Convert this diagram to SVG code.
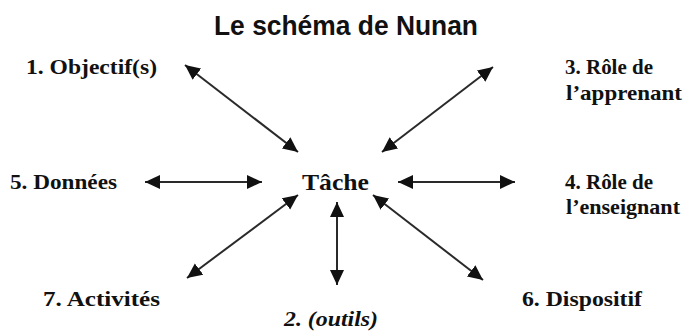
<svg xmlns="http://www.w3.org/2000/svg" width="686" height="332" viewBox="0 0 686 332">
  <defs>
    <marker id="ah" markerUnits="userSpaceOnUse" markerWidth="16" markerHeight="15" refX="15" refY="7" orient="auto-start-reverse">
      <path d="M0,0 L15,7 L0,14 z" fill="#111"/>
    </marker>
    <style>
      .lbl { font-family: "Liberation Serif", "Times New Roman", serif; font-weight: bold; font-size: 21px; fill: #111; }
      .ttl { font-family: "Liberation Sans", Arial, sans-serif; font-weight: bold; font-size: 27px; fill: #111; }
      .ar { stroke: #2a2a2a; stroke-width: 2; fill: none; marker-start: url(#ah); marker-end: url(#ah); }
    </style>
  </defs>
  <rect width="686" height="332" fill="#fff"/>
  <g id="title"><text class="ttl" x="214" y="35" textLength="264" lengthAdjust="spacingAndGlyphs">Le schéma de Nunan</text></g>
  <g id="tache"><text class="lbl" x="302" y="190" style="font-size:23px" textLength="67" lengthAdjust="spacingAndGlyphs">Tâche</text></g>
  <g id="n1"><text class="lbl" x="26" y="74" textLength="131" lengthAdjust="spacingAndGlyphs">1. Objectif(s)</text></g>
  <g id="n3">
    <text class="lbl" x="565" y="74" textLength="88" lengthAdjust="spacingAndGlyphs">3. Rôle de</text>
    <text class="lbl" x="566" y="100" textLength="116" lengthAdjust="spacingAndGlyphs">l’apprenant</text>
  </g>
  <g id="n5"><text class="lbl" x="10" y="189" textLength="107" lengthAdjust="spacingAndGlyphs">5. Données</text></g>
  <g id="n4">
    <text class="lbl" x="565" y="189" textLength="88" lengthAdjust="spacingAndGlyphs">4. Rôle de</text>
    <text class="lbl" x="566" y="214" textLength="114" lengthAdjust="spacingAndGlyphs">l’enseignant</text>
  </g>
  <g id="n7"><text class="lbl" x="43" y="306" textLength="117" lengthAdjust="spacingAndGlyphs">7. Activités</text></g>
  <g id="n2"><text class="lbl" x="284" y="326" font-style="italic" textLength="94" lengthAdjust="spacingAndGlyphs">2. (outils)</text></g>
  <g id="n6"><text class="lbl" x="522" y="306" textLength="120" lengthAdjust="spacingAndGlyphs">6. Dispositif</text></g>
  <g id="connectors">
    <line class="ar" x1="185" y1="65" x2="298" y2="152"/>
    <line class="ar" x1="493" y1="67" x2="382" y2="152"/>
    <line class="ar" x1="145" y1="182" x2="262" y2="182"/>
    <line class="ar" x1="398" y1="182" x2="515" y2="182"/>
    <line class="ar" x1="298" y1="195" x2="187" y2="278"/>
    <line class="ar" x1="337" y1="202" x2="337" y2="285"/>
    <line class="ar" x1="373" y1="195" x2="483" y2="280"/>
  </g>
</svg>
